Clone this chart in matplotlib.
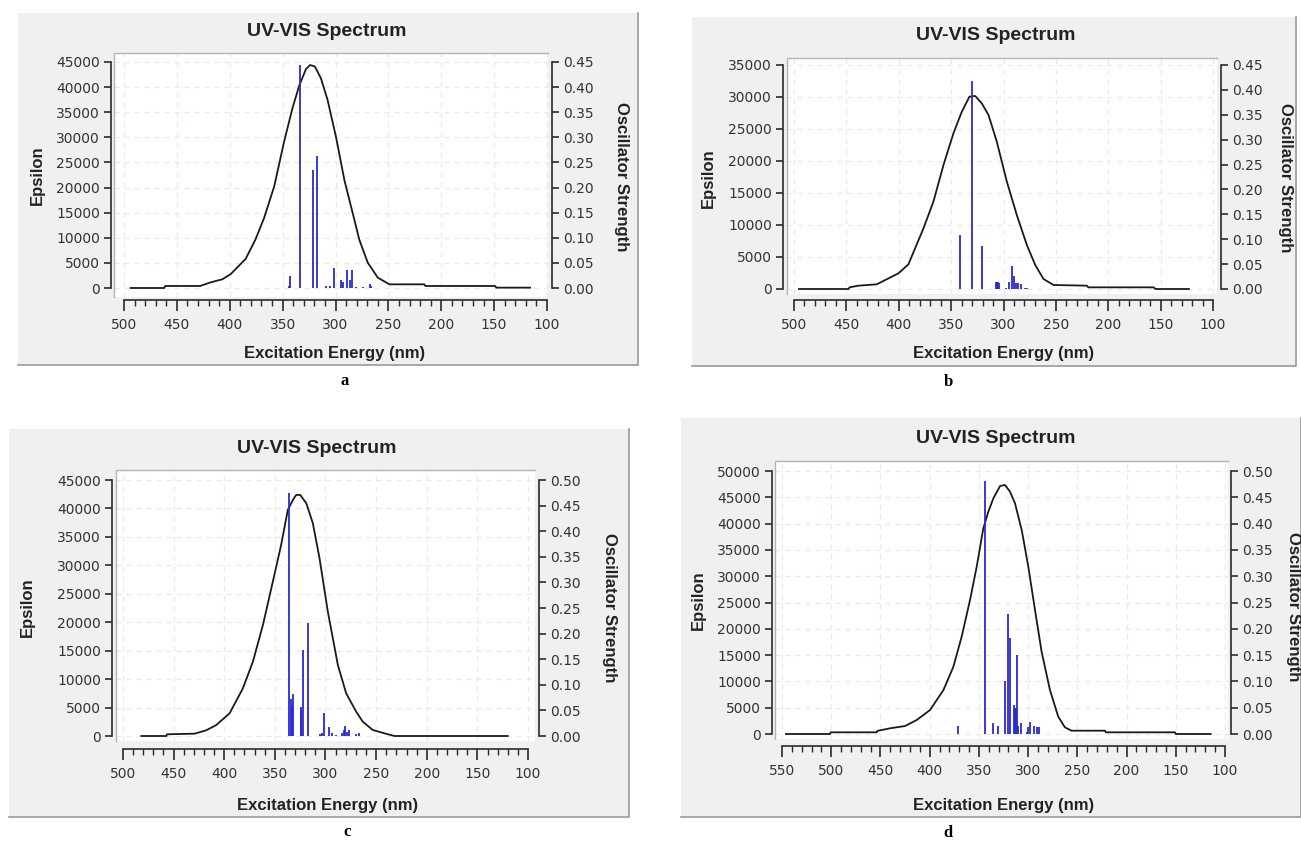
import numpy as np
import matplotlib
matplotlib.use("Agg")
import matplotlib.pyplot as plt
from matplotlib.patches import Rectangle
from matplotlib.lines import Line2D
from matplotlib.ticker import MultipleLocator, FormatStrFormatter

# tick labels in DejaVu (wide digits), titles and axis names in Liberation Sans
plt.rcParams['font.family'] = ['DejaVu Sans']
TEXT_FAMILY = ['Liberation Sans', 'DejaVu Sans']

# ---- data (nm, epsilon) and sticks (nm, f) ----
a_curve_nm = [493.7, 462, 461, 428, 418, 407, 399, 385, 375.6, 367.6, 358, 348.6, 340.7,
              334.4, 328, 324, 319.5, 313.8, 307.5, 299.6, 291.6, 283.7, 277.4, 269.5,
              260, 249, 216, 215, 149, 148, 116]
a_curve_eps = [0, 0, 400, 400, 1130, 1730, 2790, 5780, 9700, 13900, 20200, 29150, 35800,
               40240, 43560, 44400, 44100, 41770, 37450, 30150, 21500, 14870, 9560, 5050,
               2060, 730, 730, 400, 400, 70, 70]
a_stick_nm = [343.0, 343.5, 333.1, 321.4, 317.3, 309.0, 305.3, 301.1, 294.8, 292.6, 289.4,
              286.6, 284.0, 280.6, 274.3, 267.0, 266.5]
a_stick_f = [0.024, 0.003, 0.445, 0.234, 0.263, 0.004, 0.003, 0.040, 0.016, 0.011, 0.035,
             0.016, 0.035, 0.002, 0.002, 0.007, 0.004]

b_curve_nm = [495.2, 448, 447, 438.5, 421, 400.3, 390.8, 376.4, 366.9, 357.3, 347.8, 339.8,
              332.5, 327, 320.7, 314.3, 306.4, 296.8, 287.3, 277.7, 269.7, 261.8, 252.2,
              220.4, 219, 156.7, 155, 123]
b_curve_eps = [0, 0, 260, 520, 730, 2450, 3850, 9480, 13650, 19375, 24320, 27700,
               30050, 30160, 29000, 27190, 23020, 16770, 11560, 6875, 3750, 1560, 625,
               520, 260, 260, 0, 0]
b_stick_nm = [341.4, 329.9, 320.4, 307.5, 306.5, 305.5, 304.3, 298.0, 294.5, 291.5, 290.3,
              288.4, 285.9, 283.6, 279.5, 277.4]
b_stick_f = [0.108, 0.418, 0.086, 0.015, 0.014, 0.015, 0.012, 0.003, 0.015, 0.0455, 0.027,
             0.013, 0.013, 0.011, 0.003, 0.003]

c_curve_nm = [481.9, 457.2, 456.5, 429.3, 417.8, 407.9, 394.7, 381.6, 371.7, 361.8, 352,
              343.8, 337.2, 332.2, 329, 325, 319, 312.5, 305.9, 297.7, 287.8, 279.6, 269.7,
              263.2, 253.3, 241.8, 231.9, 120]
c_curve_eps = [0, 0, 300, 410, 1000, 1930, 3990, 8380, 13070, 19520, 27140,
               33590, 39750, 41500, 42380, 42380, 40920, 37400, 31240, 21860, 12490, 7500, 4280,
               2520, 1055, 470, 0, 0]
c_stick_nm = [336.5, 333.6, 332.8, 331.9, 324.6, 324.0, 322.7, 317.4, 305.9, 303.9, 301.3,
              296.4, 293.4, 290.1, 283.9, 282.2, 280.6, 278.9, 276.3, 269.7, 267.1]
c_stick_f = [0.474, 0.072, 0.060, 0.082, 0.057, 0.050, 0.168, 0.220, 0.003, 0.0065, 0.0456,
             0.017, 0.0065, 0.002, 0.0065, 0.0117, 0.0195, 0.0085, 0.0117, 0.003, 0.0065]

d_curve_nm = [546, 501.2, 500.5, 453.8, 453, 440.3, 425, 413.2, 399.6, 386, 375.9, 367.5,
              359, 352.2, 345.5, 340.4, 335.3, 328.5, 323.5, 318.4, 313.3, 306.5, 299.8, 293,
              286.3, 277.8, 269.4, 262.6, 255.9, 221.9, 221, 150.8, 150, 114.5]
d_curve_eps = [0, 0, 320, 320, 600, 1080, 1520, 2660, 4560, 8360, 12800, 18500,
               25480, 31820, 39100, 42270, 44800, 47150, 47340, 46070, 43850, 38780, 31810, 23570,
               15650, 8360, 3300, 1270, 630, 630, 320, 320, 0, 0]
d_stick_nm = [370.9, 343.4, 335.3, 330.9, 323.5, 320.1, 318.4, 314.0, 313.3, 312.7, 311.6,
              310.2, 307.5, 301.4, 299.8, 297.7, 293.7, 291.3, 289.3]
d_stick_f = [0.016, 0.481, 0.020, 0.015, 0.100, 0.229, 0.182, 0.055, 0.050, 0.049, 0.151,
             0.016, 0.020, 0.003, 0.0127, 0.0235, 0.016, 0.0127, 0.0127]

eps_max = [45000, 35000, 45000, 50000]
f_max = [0.45, 0.45, 0.50, 0.50]
x_start = [500, 500, 500, 550]
panel_letters = ['a', 'b', 'c', 'd']

W, H = 1301, 846

# pixel layout of each panel
layouts = [
    dict(box=(18, 13, 638, 365), white=(114, 53, 548, 297), lsp=111, rsp=552, axy=300,
         px0=124, px100=547, py0=288, pymax=62, title=(327, 32), xlab=(335, 353),
         ylab=(37, 175), rlab=(621, 177), letter=(345, 381)),
    dict(box=(692, 17, 1296, 366), white=(787, 58, 1217, 294), lsp=783, rsp=1221, axy=300,
         px0=794, px100=1213, py0=289, pymax=65, title=(996, 36), xlab=(1004, 353),
         ylab=(708, 178), rlab=(1285, 178), letter=(948, 382)),
    dict(box=(9, 429, 629, 817), white=(116, 470, 535, 741), lsp=112, rsp=539, axy=749,
         px0=123, px100=528, py0=736, pymax=480, title=(317, 448), xlab=(328, 805),
         ylab=(27, 607), rlab=(610, 608), letter=(347, 832)),
    dict(box=(681, 418, 1301, 817), white=(775, 461, 1228, 739), lsp=772, rsp=1231, axy=746,
         px0=782, px100=1225, py0=734, pymax=471, title=(996, 438), xlab=(1004, 805),
         ylab=(698, 600), rlab=(1294, 607), letter=(948, 833)),
]

curves = [(a_curve_nm, a_curve_eps), (b_curve_nm, b_curve_eps),
          (c_curve_nm, c_curve_eps), (d_curve_nm, d_curve_eps)]
sticks = [(a_stick_nm, a_stick_f), (b_stick_nm, b_stick_f),
          (c_stick_nm, c_stick_f), (d_stick_nm, d_stick_f)]


def fx(px):
    return px / W


def fy(py):
    return 1 - py / H


def draw_panel(fig, i):
    L = layouts[i]
    bx0, by0, bx1, by1 = L['box']
    fig.add_artist(Rectangle((fx(bx0), fy(by1)), (bx1 - bx0) / W, (by1 - by0) / H,
                             transform=fig.transFigure, facecolor='#f0f0f0',
                             edgecolor='none', zorder=0))
    fig.add_artist(Line2D([fx(bx1), fx(bx1), fx(bx0)], [fy(by0), fy(by1), fy(by1)],
                          transform=fig.transFigure, color='#9a9a9a', lw=1.2, zorder=0.5))

    wx0, wy0, wx1, wy1 = L['white']
    ax = fig.add_axes([fx(wx0), fy(wy1), (wx1 - wx0) / W, (wy1 - wy0) / H])
    ax.set_facecolor('white')
    fig.add_artist(Line2D([fx(wx0), fx(wx0), fx(wx1)], [fy(wy1), fy(wy0), fy(wy0)],
                          transform=fig.transFigure, color='#b4b4b4', lw=1.0, zorder=5))

    xs = x_start[i]
    ymax = eps_max[i]
    fmax = f_max[i]
    s = (L['px100'] - L['px0']) / (xs - 100)
    t = (L['py0'] - L['pymax']) / ymax
    ax.set_xlim(xs + (L['px0'] - wx0) / s, 100 - (wx1 - L['px100']) / s)
    ybot = -(wy1 - L['py0']) / t
    ytop = ymax + (L['pymax'] - wy0) / t
    ax.set_ylim(ybot, ytop)

    ax.set_xticks(np.arange(xs, 99, -50))
    ax.xaxis.set_minor_locator(MultipleLocator(10))
    ax.set_yticks(np.arange(0, ymax + 1, 5000))
    ax.grid(True, which='major', color='#ebebdc', linestyle=(0, (4, 4)), lw=0.9)
    ax.set_axisbelow(True)

    for side in ['top', 'right']:
        ax.spines[side].set_visible(False)
    ax.spines['left'].set_position(('outward', (wx0 - L['lsp']) * 0.72))
    ax.spines['left'].set_bounds(0, ymax)
    ax.spines['bottom'].set_position(('outward', (L['axy'] - wy1) * 0.72))
    ax.spines['bottom'].set_bounds(xs, 100)
    for side in ['left', 'bottom']:
        ax.spines[side].set_color('#2a2a2a')
        ax.spines[side].set_linewidth(1.2)

    ax.tick_params(axis='x', which='major', length=8, width=1.2, color='#2a2a2a',
                   labelsize=10, labelcolor='#333333', pad=5)
    ax.tick_params(axis='x', which='minor', length=4.5, width=1.0, color='#2a2a2a')
    ax.tick_params(axis='y', which='major', length=5, width=1.2, color='#2a2a2a',
                   labelsize=10, labelcolor='#333333', pad=3)

    x, y = curves[i]
    ax.plot(x, y, color='#1a1a1a', lw=1.3, zorder=3)

    ax2 = ax.twinx()
    k = fmax / ymax
    ax2.set_ylim(ybot * k, ytop * k)
    for side in ['top', 'left', 'bottom']:
        ax2.spines[side].set_visible(False)
    ax2.spines['right'].set_position(('outward', (L['rsp'] - wx1) * 0.72))
    ax2.spines['right'].set_bounds(0, fmax)
    ax2.spines['right'].set_color('#2a2a2a')
    ax2.spines['right'].set_linewidth(1.2)
    ax2.set_yticks(np.arange(0, fmax + 1e-9, 0.05))
    ax2.yaxis.set_major_formatter(FormatStrFormatter('%.2f'))
    ax2.tick_params(axis='y', which='major', length=5, width=1.2, color='#2a2a2a',
                    labelsize=10, labelcolor='#333333', pad=3)

    sn, sf = sticks[i]
    ax2.vlines(sn, 0, sf, color='#2a2ad0', lw=1.3, zorder=4)

    lab = dict(fontsize=12, fontweight='bold', color='#222222', family=TEXT_FAMILY)
    fig.text(fx(L['title'][0]), fy(L['title'][1]), 'UV-VIS Spectrum', ha='center',
             va='center', fontsize=14, fontweight='bold', color='#222222',
             family=TEXT_FAMILY)
    fig.text(fx(L['xlab'][0]), fy(L['xlab'][1]), 'Excitation Energy (nm)', ha='center',
             va='center', **lab)
    fig.text(fx(L['ylab'][0]), fy(L['ylab'][1]), 'Epsilon', ha='center', va='center',
             rotation=90, **lab)
    fig.text(fx(L['rlab'][0]), fy(L['rlab'][1]), 'Oscillator Strength', ha='center',
             va='center', rotation=-90, **lab)
    fig.text(fx(L['letter'][0]), fy(L['letter'][1]), panel_letters[i], ha='center',
             va='center', fontsize=12, fontweight='bold', family='Liberation Serif',
             color='black')


fig = plt.figure(figsize=(W / 100, H / 100), dpi=100)
fig.patch.set_facecolor('white')
for i in range(4):
    draw_panel(fig, i)

fig.savefig('out.png', dpi=100)
